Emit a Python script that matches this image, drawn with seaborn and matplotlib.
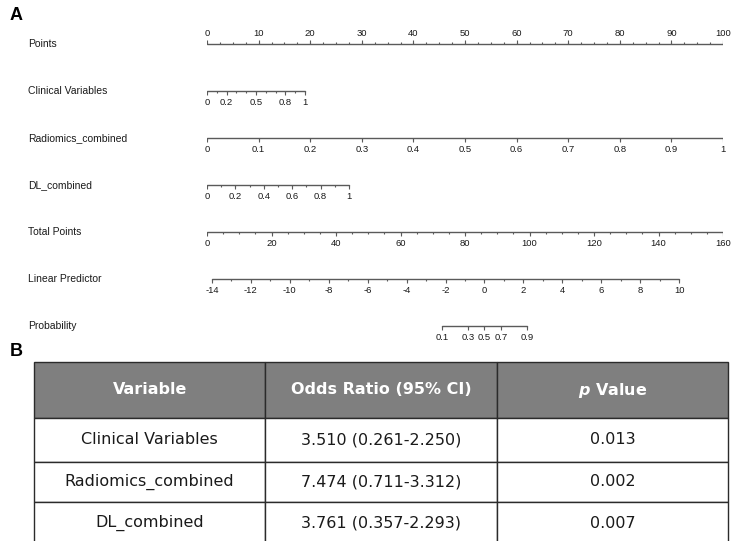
import numpy as np
import pandas as pd
import matplotlib
matplotlib.use("Agg")
import matplotlib.pyplot as plt
import matplotlib.transforms as mtransforms
import seaborn as sns

# nomogram scales
row_names = ["Points", "Clinical Variables", "Radiomics_combined", "DL_combined",
             "Total Points", "Linear Predictor", "Probability"]

points_labels = [0, 10, 20, 30, 40, 50, 60, 70, 80, 90, 100]
points_minor_step = 2.5

clinical_labels = [0, 0.2, 0.5, 0.8, 1]
clinical_max_points = 19.0
radiomics_labels = [0, 0.1, 0.2, 0.3, 0.4, 0.5, 0.6, 0.7, 0.8, 0.9, 1]
radiomics_max_points = 100.0
dl_labels = [0, 0.2, 0.4, 0.6, 0.8, 1]
dl_max_points = 27.5
var_tick_step = 0.1

total_labels = [0, 20, 40, 60, 80, 100, 120, 140, 160]
total_minor_step = 5
total_max = 160.0

lp_labels = [-14, -12, -10, -8, -6, -4, -2, 0, 2, 4, 6, 8, 10]
lp_minor_step = 1
lp_intercept_points = 86.04   # total points at LP = 0
lp_points_per_unit = 6.035

prob_labels = [0.1, 0.3, 0.5, 0.7, 0.9]

# table
table_cols = ["Variable", "Odds Ratio (95% CI)", r"$\mathbfit{p}$ Value"]
table_vars = ["Clinical Variables", "Radiomics_combined", "DL_combined"]
table_or = ["3.510 (0.261-2.250)", "7.474 (0.711-3.312)", "3.761 (0.357-2.293)"]
table_p = ["0.013", "0.002", "0.007"]

sns.set_theme(style="white")
plt.rcParams["font.family"] = ["Liberation Sans", "DejaVu Sans"]

W, H = 732, 541
fig = plt.figure(figsize=(W / 100, H / 100), dpi=100)

# ---------------- panel A: nomogram ----------------
ax = fig.add_axes([207 / W, 1 - 352 / H, 516 / W, 352 / H])

line_col = "#5a5a5a"
txt_col = "#1a1a1a"


def total_to_x(t):
    return np.asarray(t, dtype=float) * 100.0 / total_max


def lp_to_x(lp):
    return total_to_x(lp_intercept_points + lp_points_per_unit * np.asarray(lp, dtype=float))


def prob_to_x(p):
    p = np.asarray(p, dtype=float)
    return lp_to_x(np.log(p / (1 - p)))


def fmt(v):
    return f"{v:g}"


scales = []  # (row, label values, label x, minor x, ticks up?)
scales.append((0, points_labels, np.array(points_labels, float),
               np.arange(0, 100 + 1e-9, points_minor_step), True))
for row, labs, mx in [(1, clinical_labels, clinical_max_points),
                      (2, radiomics_labels, radiomics_max_points),
                      (3, dl_labels, dl_max_points)]:
    scales.append((row, labs, np.array(labs, float) * mx,
                   np.arange(0, 1 + 1e-9, var_tick_step) * mx, False))
scales.append((4, total_labels, total_to_x(total_labels),
               total_to_x(np.arange(0, total_max + 1e-9, total_minor_step)), False))
scales.append((5, lp_labels, lp_to_x(lp_labels),
               lp_to_x(np.arange(lp_labels[0], lp_labels[-1] + 1e-9, lp_minor_step)), False))
scales.append((6, prob_labels, prob_to_x(prob_labels), prob_to_x(prob_labels), False))

seg = []
for row, labs, lx, mnx, up in scales:
    allx = np.concatenate([lx, mnx])
    seg.append({"scale": row, "x": allx.min(), "y": row})
    seg.append({"scale": row, "x": allx.max(), "y": row})
seg_df = pd.DataFrame(seg)
sns.lineplot(data=seg_df, x="x", y="y", units="scale", estimator=None,
             color=line_col, lw=1.0, ax=ax, legend=False)
ax.set_xlim(0, 100)
ax.set_ylim(6.553, -0.936)
ax.axis("off")

major_len, minor_len = 0.085, 0.05
for row, labs, lx, mnx, up in scales:
    d = -1 if up else 1
    ax.vlines(mnx, row, row + d * minor_len, color=line_col, lw=0.8)
    ax.vlines(lx, row, row + d * major_len, color=line_col, lw=0.8)
    ly = row - 0.22 if up else row + 0.24
    for v, x in zip(labs, lx):
        ax.text(x, ly, fmt(v), ha="center", va="center", fontsize=6.8, color=txt_col,
                clip_on=False)

name_tr = mtransforms.blended_transform_factory(fig.transFigure, ax.transData)
for i, name in enumerate(row_names):
    ax.text(28 / W, i, name, transform=name_tr, ha="left", va="center",
            fontsize=7.5, color=txt_col)

fig.text(10 / W, 1 - 16 / H, "A", fontsize=13, fontweight="bold", va="center",
         ha="left", color="black")
fig.text(10 / W, 1 - 352 / H, "B", fontsize=13, fontweight="bold", va="center",
         ha="left", color="black")

# ---------------- panel B: table ----------------
axt = fig.add_axes([0, 0, 1, 1])
axt.axis("off")
cells = [[v, o, p] for v, o, p in zip(table_vars, table_or, table_p)]
tab = axt.table(cellText=cells, colLabels=table_cols, cellLoc="center",
                bbox=[34 / W, -3 / H, 694 / W, 182 / H])
tab.auto_set_font_size(False)
row_h = [56, 44, 40, 42]
for (r, c), cell in tab.get_celld().items():
    cell.set_height(row_h[r])
    cell.set_width(1)
    cell.set_edgecolor("#2b2b2b")
    cell.set_linewidth(1.0)
    txt = cell.get_text()
    txt.set_fontfamily("DejaVu Sans")
    txt.set_fontsize(11.5)
    if r == 0:
        cell.set_facecolor("#7f7f7f")
        txt.set_color("white")
        txt.set_fontweight("bold")
    else:
        cell.set_facecolor("white")
        txt.set_color(txt_col)
tab.set_clip_on(False)

fig.savefig("out.png", dpi=100)
